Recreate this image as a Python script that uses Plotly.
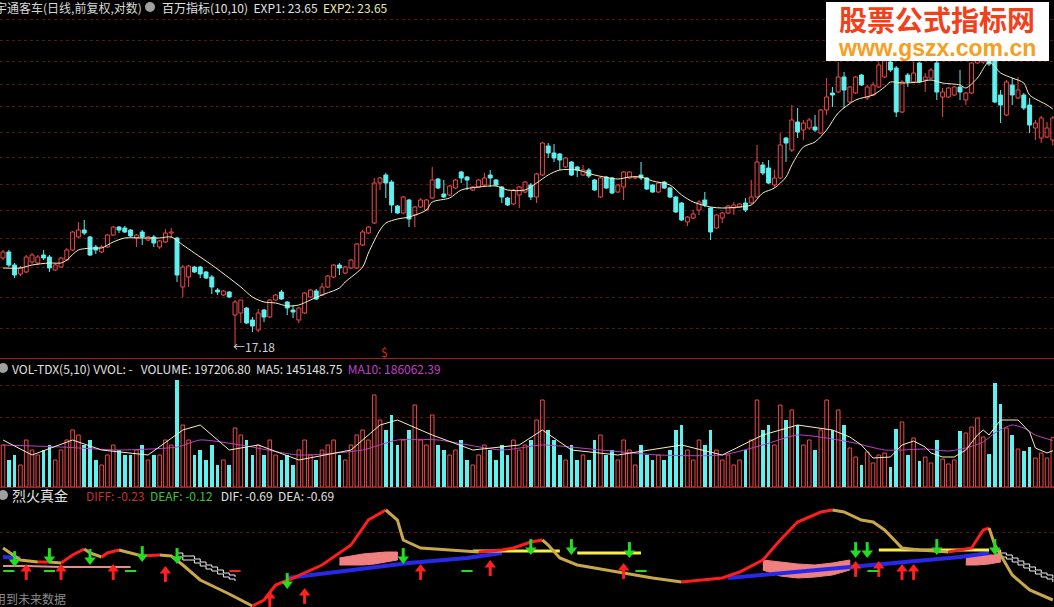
import plotly.graph_objects as go

W, H = 1054, 607

# ---------------- price panel (daily candles) ----------------
opens = [20.66, 20.90, 20.38, 20.02, 20.10, 20.50, 20.46, 20.78, 20.70, 20.18,
         20.30, 20.58, 20.98, 21.50, 21.78, 21.50, 21.10, 20.90, 21.10, 21.58,
         21.90, 21.86, 21.78, 21.46, 21.70, 21.38, 21.50, 21.10, 21.30, 21.66,
         21.46, 19.50, 19.90, 20.30, 20.30, 20.10, 19.90, 19.38, 19.18, 19.30,
         18.38, 18.46, 18.66, 18.18, 17.78, 18.58, 18.30, 18.98, 19.30, 18.90,
         18.58, 18.18, 18.46, 19.10, 19.34, 19.18, 19.50, 19.90, 20.38, 20.06,
         20.26, 20.26, 21.18, 21.66, 22.06, 23.66, 23.98, 23.70, 22.74, 22.46,
         22.98, 22.38, 22.70, 22.58, 23.06, 23.82, 23.22, 23.18, 23.46, 24.10,
         23.90, 23.38, 23.50, 23.58, 23.98, 23.78, 23.50, 23.06, 22.82, 23.18,
         23.30, 23.58, 23.10, 23.98, 25.14, 24.86, 24.82, 24.30, 24.50, 24.30,
         23.98, 24.18, 23.78, 23.10, 23.90, 23.86, 23.30, 23.50, 23.86, 23.86,
         23.98, 23.86, 23.58, 23.30, 23.70, 23.46, 23.10, 22.86, 22.10, 22.26,
         22.58, 22.98, 22.66, 21.86, 22.26, 22.46, 22.66, 22.70, 22.86, 22.86,
         23.10, 24.38, 24.26, 23.58, 23.86, 25.46, 24.98, 26.10, 25.78, 25.86,
         25.90, 25.66, 26.58, 27.26, 27.30, 27.90, 26.90, 27.26, 27.98, 27.06,
         27.18, 27.50, 27.90, 28.50, 28.26, 26.50, 27.98, 27.70, 28.46, 27.78,
         27.86, 28.46, 27.10, 27.10, 27.18, 27.50, 26.98, 27.26, 28.46, 28.50,
         28.58, 28.66, 27.18, 26.38, 27.58, 27.06, 27.18, 26.78, 25.86, 25.46,
         25.50, 25.38]
highs = [20.98, 20.98, 20.46, 20.34, 20.78, 20.86, 20.78, 20.98, 20.78, 20.46,
         20.70, 21.06, 21.74, 22.10, 22.18, 21.54, 21.18, 21.18, 21.62, 21.94,
         21.94, 21.94, 21.82, 21.62, 21.78, 21.54, 21.58, 21.38, 21.82, 21.86,
         21.50, 20.38, 20.38, 20.34, 20.34, 20.14, 19.98, 19.46, 19.38, 19.34,
         18.98, 18.98, 18.70, 18.30, 18.62, 18.62, 19.02, 19.22, 19.38, 18.94,
         18.78, 18.70, 19.30, 19.42, 19.42, 19.66, 19.98, 20.42, 20.46, 20.34,
         20.62, 21.26, 21.78, 21.94, 23.86, 23.90, 24.06, 23.78, 22.78, 23.14,
         23.02, 22.74, 23.06, 23.02, 24.30, 23.86, 23.78, 23.58, 23.82, 24.14,
         23.94, 23.54, 23.82, 24.06, 24.18, 23.82, 23.54, 23.10, 23.42, 23.54,
         23.74, 23.66, 24.06, 25.30, 25.26, 25.22, 24.86, 24.70, 24.54, 24.34,
         24.38, 24.26, 23.82, 23.90, 23.94, 23.90, 23.62, 24.14, 24.14, 23.94,
         24.50, 23.90, 23.62, 23.70, 23.74, 23.50, 23.14, 22.90, 22.34, 22.58,
         22.98, 23.30, 22.70, 22.42, 22.50, 22.78, 22.90, 22.86, 23.06, 23.78,
         25.18, 24.50, 24.58, 24.18, 25.66, 25.50, 26.78, 26.66, 26.18, 26.26,
         26.38, 26.62, 27.86, 27.50, 28.50, 28.10, 27.54, 27.94, 28.02, 27.58,
         27.70, 28.50, 28.66, 28.66, 28.34, 27.78, 28.06, 28.50, 28.50, 28.06,
         28.26, 28.54, 27.46, 27.50, 27.54, 28.18, 27.30, 28.50, 28.66, 28.98,
         28.90, 28.98, 27.38, 27.78, 27.86, 27.90, 27.26, 27.06, 26.18, 26.34,
         26.10, 26.34]
lows = [20.58, 20.30, 19.86, 19.94, 20.06, 20.42, 20.38, 20.58, 20.10, 20.14,
        20.26, 20.54, 20.94, 21.46, 21.58, 20.74, 20.82, 20.86, 21.06, 21.54,
        21.66, 21.66, 21.50, 21.10, 21.18, 21.34, 21.10, 21.02, 21.26, 21.46,
        19.70, 19.10, 19.50, 20.06, 19.86, 19.82, 19.22, 19.18, 19.14, 19.06,
        17.18, 18.06, 18.02, 17.70, 17.70, 18.10, 18.26, 18.94, 18.98, 18.38,
        18.26, 18.06, 18.42, 19.06, 18.98, 19.14, 19.46, 19.86, 19.98, 20.02,
        20.22, 20.22, 21.14, 21.62, 22.02, 23.38, 23.06, 22.46, 22.42, 22.42,
        21.90, 21.90, 22.66, 22.54, 23.02, 23.42, 23.06, 23.14, 23.42, 23.66,
        23.38, 23.34, 23.46, 23.54, 23.50, 23.54, 22.86, 22.74, 22.78, 22.66,
        23.26, 22.98, 22.86, 23.94, 24.66, 24.50, 24.18, 24.26, 23.94, 23.90,
        23.94, 23.86, 23.34, 23.06, 23.42, 23.22, 23.26, 22.98, 23.82, 23.82,
        23.78, 23.38, 23.26, 23.26, 23.42, 23.06, 22.46, 22.14, 21.94, 22.22,
        22.38, 22.70, 21.38, 21.82, 22.06, 22.42, 22.38, 22.66, 22.50, 22.82,
        23.06, 23.98, 23.62, 23.46, 23.82, 24.50, 24.90, 25.46, 25.38, 25.78,
        25.70, 25.62, 26.38, 26.70, 27.26, 26.66, 26.86, 27.22, 27.54, 26.98,
        27.14, 27.46, 27.86, 28.10, 26.30, 26.46, 27.50, 27.66, 27.66, 27.30,
        27.82, 26.98, 26.30, 27.06, 27.14, 26.98, 26.78, 27.22, 28.42, 28.42,
        28.34, 26.86, 26.06, 26.34, 26.78, 27.02, 26.58, 25.66, 25.38, 25.26,
        25.46, 25.18]
closes = [20.90, 20.38, 19.98, 20.26, 20.70, 20.78, 20.70, 20.66, 20.26, 20.38,
          20.66, 20.98, 21.70, 21.78, 21.66, 20.78, 20.98, 21.10, 21.58, 21.90,
          21.78, 21.70, 21.54, 21.58, 21.50, 21.50, 21.26, 21.34, 21.66, 21.70,
          19.98, 20.30, 20.34, 20.10, 20.02, 19.86, 19.50, 19.30, 19.34, 19.10,
          18.90, 18.98, 18.06, 17.94, 18.46, 18.30, 18.98, 19.18, 19.02, 18.66,
          18.50, 18.66, 19.26, 19.38, 19.02, 19.50, 19.94, 20.38, 20.26, 20.30,
          20.58, 21.22, 21.70, 21.90, 23.66, 23.86, 23.66, 22.78, 22.46, 23.10,
          22.22, 22.70, 22.98, 22.98, 23.78, 23.46, 23.10, 23.54, 23.78, 23.86,
          23.78, 23.50, 23.78, 23.86, 23.86, 23.58, 23.10, 22.78, 23.38, 23.50,
          23.70, 23.10, 24.02, 25.26, 24.86, 24.66, 24.58, 24.66, 23.98, 24.18,
          24.18, 23.94, 23.38, 23.86, 23.46, 23.26, 23.58, 24.10, 24.10, 23.90,
          23.86, 23.42, 23.30, 23.66, 23.46, 23.10, 22.50, 22.18, 22.30, 22.42,
          22.90, 22.78, 21.70, 22.38, 22.46, 22.74, 22.78, 22.82, 22.58, 23.10,
          24.50, 24.06, 23.66, 23.86, 25.18, 25.26, 26.18, 25.70, 26.06, 26.18,
          25.78, 26.58, 27.10, 27.18, 27.90, 27.38, 27.50, 27.90, 27.58, 27.50,
          27.58, 28.38, 28.58, 28.18, 26.50, 27.70, 27.70, 28.06, 27.70, 27.90,
          28.18, 27.30, 27.30, 27.46, 27.50, 27.30, 27.26, 28.46, 28.58, 28.78,
          28.42, 26.90, 26.78, 27.70, 27.18, 27.38, 26.66, 25.98, 26.06, 26.26,
          25.86, 26.26]

# EXP moving-average line, sampled at candle indices
ma_idx = [0, 3, 5, 8, 10, 11, 13, 16, 17, 19, 21, 24, 27, 29, 31, 33, 36, 39, 41, 43,
          45, 47, 49, 51, 53, 55, 58, 59, 62, 63, 65, 66, 68, 70, 73, 74, 77, 79, 82, 85,
          87, 90, 92, 94, 96, 99, 102, 106, 108, 110, 112, 115, 117, 119, 122, 124, 127, 129, 131, 133,
          135, 136, 138, 140, 142, 144, 147, 150, 152, 153, 155, 158, 160, 162, 165, 166, 168, 170, 172, 174,
          176, 177, 180, 181]
ma_val = [20.26, 20.26, 20.38, 20.46, 20.46, 20.58, 20.98, 21.06, 21.06, 21.30, 21.46, 21.46, 21.46, 21.50, 21.18, 20.86, 20.38, 19.86, 19.50, 19.10,
          18.90, 18.86, 18.74, 18.78, 18.98, 19.18, 19.46, 19.70, 20.30, 20.86, 21.78, 22.06, 22.22, 22.30, 22.58, 22.90, 23.06, 23.38, 23.50, 23.54,
          23.38, 23.38, 23.66, 23.98, 24.18, 24.18, 23.98, 23.82, 23.90, 23.90, 23.74, 23.58, 23.18, 22.90, 22.70, 22.66, 22.70, 22.78, 23.26, 23.46,
          23.90, 24.38, 25.10, 25.30, 25.78, 26.46, 26.98, 27.18, 27.50, 27.70, 27.66, 27.70, 27.78, 27.66, 27.58, 27.46, 27.86, 28.50, 28.06, 27.86,
          27.66, 27.18, 26.78, 26.62]
price_grid = [30.22, 29.38, 28.54, 27.62, 26.74, 25.70, 24.70, 23.62, 22.58, 21.46, 20.30, 19.10, 17.86]

# ---------------- volume panel ----------------
volumes = [168000, 108000, 128000, 88000, 188000, 148000, 128000, 148000, 168000, 108000,
           148000, 188000, 228000, 208000, 168000, 188000, 108000, 88000, 128000, 168000,
           148000, 128000, 128000, 148000, 168000, 108000, 128000, 128000, 188000, 168000,
           428000, 248000, 188000, 128000, 148000, 108000, 168000, 88000, 108000, 88000,
           236000, 208000, 188000, 128000, 168000, 128000, 188000, 128000, 108000, 128000,
           88000, 148000, 188000, 128000, 108000, 148000, 168000, 188000, 128000, 108000,
           168000, 208000, 228000, 188000, 368000, 268000, 228000, 288000, 168000, 188000,
           228000, 328000, 188000, 168000, 288000, 168000, 148000, 128000, 148000, 188000,
           108000, 88000, 128000, 168000, 148000, 108000, 168000, 128000, 188000, 148000,
           168000, 188000, 268000, 348000, 228000, 188000, 128000, 108000, 168000, 108000,
           128000, 108000, 188000, 208000, 128000, 148000, 108000, 188000, 148000, 88000,
           168000, 128000, 108000, 128000, 108000, 148000, 228000, 248000, 148000, 108000,
           188000, 168000, 228000, 148000, 108000, 128000, 88000, 108000, 148000, 188000,
           348000, 228000, 248000, 168000, 328000, 268000, 308000, 248000, 168000, 188000,
           148000, 228000, 348000, 228000, 308000, 248000, 156000, 120000, 88000, 140000,
           96000, 128000, 136000, 80000, 232000, 260000, 128000, 196000, 104000, 120000,
           96000, 188000, 112000, 92000, 108000, 224000, 216000, 240000, 276000, 200000,
           132000, 416000, 332000, 236000, 208000, 152000, 144000, 160000, 116000, 136000,
           116000, 197207]
vma5_idx = [0, 5, 12, 17, 25, 31, 34, 39, 44, 51, 60, 65, 68, 74, 81, 89, 93, 98, 106, 117,
            124, 131, 137, 143, 146, 148, 150, 153, 155, 157, 159, 160, 162, 164, 166, 168, 169, 170, 172, 175,
            177, 178, 180, 181]
vma5_val = [188000, 128000, 188000, 148000, 128000, 228000, 248000, 148000, 168000, 108000, 148000, 248000, 268000, 208000, 148000, 168000, 228000, 148000, 128000, 168000,
            128000, 208000, 248000, 228000, 200000, 168000, 116000, 120000, 168000, 184000, 160000, 136000, 120000, 120000, 148000, 208000, 228000, 208000, 268000, 268000,
            220000, 156000, 136000, 145149]
vma10_idx = [0, 10, 20, 30, 34, 41, 51, 62, 68, 75, 86, 93, 103, 113, 124, 131, 137, 146, 152, 155,
             159, 163, 166, 169, 171, 174, 176, 178, 181]
vma10_val = [168000, 160000, 148000, 160000, 188000, 168000, 128000, 148000, 188000, 188000, 148000, 168000, 148000, 128000, 128000, 168000, 208000, 180000, 148000, 148000,
             152000, 144000, 156000, 180000, 216000, 248000, 236000, 208000, 186062]

# ---------------- 烈火真金 indicator panel ----------------
diff_idx = [0, 1, 3, 6, 8, 10, 12, 14, 15, 17, 18, 20, 22, 24, 27, 29, 31, 34, 39, 43,
            45, 47, 50, 55, 60, 63, 66, 68, 69, 72, 77, 82, 86, 88, 91, 93, 94, 96, 99, 106,
            112, 117, 120, 124, 127, 131, 134, 137, 141, 143, 145, 148, 150, 152, 155, 158, 163, 167, 169, 170,
            171, 174, 177, 181]
diff_val = [0.14, 0.06, -0.10, -0.14, -0.14, -0.16, 0.00, 0.12, 0.04, -0.04, 0.04, 0.10, 0.04, -0.02, 0.00, -0.02, -0.20, -0.50, -0.78, -1.02,
            -0.90, -0.60, -0.46, -0.20, 0.20, 0.70, 0.90, 0.70, 0.30, 0.14, 0.10, 0.06, 0.10, 0.14, 0.26, 0.30, 0.20, -0.06, -0.20, -0.34,
            -0.46, -0.54, -0.50, -0.46, -0.34, -0.10, 0.30, 0.66, 0.86, 0.90, 0.86, 0.70, 0.66, 0.50, 0.14, 0.10, 0.06, 0.14, 0.50, 0.54,
            0.20, -0.40, -0.70, -0.90]
blue_idx = [0, 3, None, 49, 60, 70, 80, 86, None, 125, 140, 155, 165, 170]
blue_val = [-0.04, -0.06, None, -0.46, -0.30, -0.16, -0.06, 0.04, None, -0.46, -0.30, -0.14, -0.04, 0.04]
yel_idx = [81, 96, None, 99, 110, None, 151, 170]
yel_val = [0.08, 0.08, None, 0.04, 0.04, None, 0.10, 0.10]
pink_idx = [58, 60, 62, 64, 66, 68, None, 131, 134, 137, 140, 143, 146, None, 166, 168, 170, 172]
pink_top = [-0.06, -0.02, 0.02, 0.04, 0.06, 0.06, None, -0.10, -0.14, -0.18, -0.20, -0.16, -0.10, None, -0.04, -0.02, 0.00, 0.00]
pink_bot = [-0.20, -0.20, -0.20, -0.18, -0.14, -0.10, None, -0.30, -0.42, -0.46, -0.44, -0.40, -0.30, None, -0.20, -0.20, -0.18, -0.14]
pinkline_idx = [0, 4, 10, 16, 22]
pinkline_val = [-0.22, -0.22, -0.24, -0.24, -0.24]
stair1_idx = [30, 31, 32, 33, 34, 35, 36, 37, 38, 39, 40]
stair1_val = [0.04, -0.02, -0.02, -0.08, -0.14, -0.20, -0.24, -0.30, -0.36, -0.40, -0.44]
stair2_idx = [171, 172, 173, 174, 175, 176, 177, 178, 179, 180, 181]
stair2_val = [0.10, 0.04, 0.00, -0.06, -0.12, -0.18, -0.24, -0.30, -0.36, -0.40, -0.46]
down_idx = [2, 8, 15, 24, 30, 49, 69, 91, 98, 108, 147, 149, 161, 171]
down_val = [-0.20, -0.14, -0.16, -0.10, -0.14, -0.64, -0.14, 0.04, 0.04, -0.02, -0.02, -0.02, 0.04, 0.04]
up_idx = [4, 10, 19, 28, 46, 52, 72, 84, 107, 147, 151, 155, 157]
up_val = [-0.22, -0.22, -0.22, -0.26, -0.76, -0.70, -0.22, -0.14, -0.20, -0.16, -0.16, -0.22, -0.22]
gdash_idx = [1, 8, 22, 80, 110, 150]
gdash_val = [-0.32, -0.32, -0.32, -0.32, -0.32, -0.32]
rdash_idx = [40]
rdash_val = [-0.32]

# ---------------- styling ----------------
RED = '#f04848'
CYAN = '#5ff0f0'
BG = '#000000'
GRID = '#5e1212'
n = len(opens)
idx = list(range(n))
PX_PRICE = 0.04     # price units per pixel
PX_IND = 0.02       # indicator units per pixel
BODY_W = 0.68

fig = go.Figure()

# candles: wicks (outside the body) + bodies
up = [closes[i] >= opens[i] for i in idx]
for is_up, col in ((True, RED), (False, CYAN)):
    wx, wy = [], []
    for i in idx:
        if up[i] != is_up:
            continue
        top, bot = max(opens[i], closes[i]), min(opens[i], closes[i])
        wx += [i, i, None, i, i, None]
        wy += [highs[i], top, None, bot, lows[i], None]
    fig.add_trace(go.Scatter(x=wx, y=wy, mode='lines', line=dict(color=col, width=1),
                             hoverinfo='skip', xaxis='x', yaxis='y'))
    sel = [i for i in idx if up[i] == is_up]
    base = [min(opens[i], closes[i]) for i in sel]
    hgt = [max(abs(closes[i] - opens[i]), 0.02) for i in sel]
    fig.add_trace(go.Bar(x=sel, y=hgt, base=base, width=BODY_W,
                         marker=dict(color='rgba(0,0,0,0)' if is_up else col, line=dict(color=col, width=1)),
                         hoverinfo='skip', xaxis='x', yaxis='y'))
fig.add_trace(go.Scatter(x=ma_idx, y=ma_val, mode='lines', line=dict(color='#f4f0c0', width=1, shape='spline', smoothing=0.8),
                         hoverinfo='skip', xaxis='x', yaxis='y'))

# volume bars
fig.add_trace(go.Bar(x=[i for i in idx if up[i]], y=[volumes[i] for i in idx if up[i]], width=0.62,
                     marker=dict(color='rgba(0,0,0,0)', line=dict(color=RED, width=1)),
                     hoverinfo='skip', xaxis='x', yaxis='y2'))
fig.add_trace(go.Bar(x=[i for i in idx if not up[i]], y=[volumes[i] for i in idx if not up[i]], width=0.62,
                     marker=dict(color=CYAN, line=dict(color=CYAN, width=0)),
                     hoverinfo='skip', xaxis='x', yaxis='y2'))
fig.add_trace(go.Scatter(x=vma10_idx, y=vma10_val, mode='lines', line=dict(color='#c040c8', width=1, shape='spline', smoothing=0.6),
                         hoverinfo='skip', xaxis='x', yaxis='y2'))
fig.add_trace(go.Scatter(x=vma5_idx, y=vma5_val, mode='lines', line=dict(color='#f4f0c0', width=1),
                         hoverinfo='skip', xaxis='x', yaxis='y2'))

# indicator: pink bands
def segments(xs):
    out, cur = [], []
    for k, x in enumerate(xs):
        if x is None:
            if cur:
                out.append(cur)
            cur = []
        else:
            cur.append(k)
    if cur:
        out.append(cur)
    return out

for seg in segments(pink_idx):
    px = [pink_idx[k] for k in seg] + [pink_idx[k] for k in reversed(seg)]
    py = [pink_top[k] for k in seg] + [pink_bot[k] for k in reversed(seg)]
    fig.add_trace(go.Scatter(x=px, y=py, mode='lines', fill='toself', fillcolor='#f08080',
                             line=dict(color='#f08080', width=1), hoverinfo='skip', xaxis='x', yaxis='y3'))
fig.add_trace(go.Scatter(x=pinkline_idx, y=pinkline_val, mode='lines', line=dict(color='#f08888', width=2),
                         hoverinfo='skip', xaxis='x', yaxis='y3'))

fig.add_trace(go.Scatter(x=blue_idx, y=blue_val, mode='lines', line=dict(color='#2828e8', width=4),
                         connectgaps=False, hoverinfo='skip', xaxis='x', yaxis='y3'))
fig.add_trace(go.Scatter(x=yel_idx, y=yel_val, mode='lines', line=dict(color='#f8f040', width=3),
                         connectgaps=False, hoverinfo='skip', xaxis='x', yaxis='y3'))

# staircases (outlined steps)
for sx, sy in ((stair1_idx, stair1_val), (stair2_idx, stair2_val)):
    for off in (0, -4 * PX_IND):
        fig.add_trace(go.Scatter(x=sx, y=[v + off for v in sy], mode='lines',
                                 line=dict(color='#f0f0f0', width=1, shape='hv'),
                                 hoverinfo='skip', xaxis='x', yaxis='y3'))

# main line: red while rising, gold while falling
def add_colored(xs, ys, up_c, dn_c, width):
    segx, segy, cur = [xs[0]], [ys[0]], None
    for k in range(1, len(xs)):
        c = up_c if ys[k] >= ys[k - 1] else dn_c
        if cur is None:
            cur = c
        if c != cur:
            fig.add_trace(go.Scatter(x=segx, y=segy, mode='lines', line=dict(color=cur, width=width),
                                     hoverinfo='skip', xaxis='x', yaxis='y3'))
            segx, segy, cur = [xs[k - 1]], [ys[k - 1]], c
        segx.append(xs[k]); segy.append(ys[k])
    fig.add_trace(go.Scatter(x=segx, y=segy, mode='lines', line=dict(color=cur, width=width),
                             hoverinfo='skip', xaxis='x', yaxis='y3'))

add_colored(diff_idx, diff_val, '#ff1c1c', '#c8a848', 3)

# arrows
GREEN = '#22dd22'
fig.add_trace(go.Scatter(x=down_idx, y=[v + 9 * PX_IND for v in down_val], mode='markers',
                         marker=dict(symbol='line-ns', size=7, line=dict(color=GREEN, width=3)),
                         hoverinfo='skip', xaxis='x', yaxis='y3'))
fig.add_trace(go.Scatter(x=down_idx, y=[v + 3 * PX_IND for v in down_val], mode='markers',
                         marker=dict(symbol='triangle-down', size=10, color=GREEN),
                         hoverinfo='skip', xaxis='x', yaxis='y3'))
fig.add_trace(go.Scatter(x=up_idx, y=[v - 9 * PX_IND for v in up_val], mode='markers',
                         marker=dict(symbol='line-ns', size=7, line=dict(color='#ff2020', width=3)),
                         hoverinfo='skip', xaxis='x', yaxis='y3'))
fig.add_trace(go.Scatter(x=up_idx, y=[v - 3 * PX_IND for v in up_val], mode='markers',
                         marker=dict(symbol='triangle-up', size=10, color='#ff2020'),
                         hoverinfo='skip', xaxis='x', yaxis='y3'))
fig.add_trace(go.Scatter(x=gdash_idx, y=gdash_val, mode='markers',
                         marker=dict(symbol='line-ew', size=8, line=dict(color=GREEN, width=2)),
                         hoverinfo='skip', xaxis='x', yaxis='y3'))
fig.add_trace(go.Scatter(x=rdash_idx, y=rdash_val, mode='markers',
                         marker=dict(symbol='line-ew', size=8, line=dict(color='#ff2020', width=2)),
                         hoverinfo='skip', xaxis='x', yaxis='y3'))

# ---------------- layout ----------------
def fy(py):
    return 1 - py / H

x0 = -0.52
x1 = x0 + W / 5.8
p_top = 17.18 + 345 * PX_PRICE
fig.update_layout(
    width=W, height=H, margin=dict(l=0, r=0, t=0, b=0, pad=0),
    paper_bgcolor=BG, plot_bgcolor=BG, showlegend=False, bargap=0, barmode='overlay',
    xaxis=dict(range=[x0, x1], visible=False, rangeslider=dict(visible=False), fixedrange=True),
    yaxis=dict(domain=[fy(358), 1], range=[p_top - 358 * PX_PRICE, p_top], showticklabels=False,
               tickvals=price_grid, showgrid=True, gridcolor=GRID, griddash='dot', gridwidth=1, zeroline=False),
    yaxis2=dict(domain=[fy(487), fy(360)], range=[0, 127 * 4000], showticklabels=False,
                tickvals=[280000, 408000], showgrid=True, gridcolor=GRID, griddash='dot', zeroline=False),
    yaxis3=dict(domain=[0, fy(489)], range=[(555 - 607) * PX_IND, (555 - 489) * PX_IND], showticklabels=False,
                tickvals=[(555 - 532) * PX_IND], showgrid=True, gridcolor=GRID, griddash='dot', zeroline=False),
    font=dict(family='Liberation Sans, Noto Sans CJK SC', color='#d8d8d8', size=12),
)

shapes = [
    dict(type='line', xref='paper', yref='paper', x0=0, x1=1, y0=fy(358.5), y1=fy(358.5), line=dict(color='#b01818', width=1)),
    dict(type='line', xref='paper', yref='paper', x0=0, x1=1, y0=fy(487.5), y1=fy(487.5), line=dict(color='#b01818', width=1)),
    # logo box
    dict(type='rect', xref='paper', yref='paper', x0=826 / W, x1=1049 / W, y0=fy(61), y1=fy(2), fillcolor='#ffffff', line=dict(width=0)),
]
for cx, cy in ((150, 7), (3, 368), (3, 495)):
    shapes.append(dict(type='circle', xref='paper', yref='paper', x0=(cx - 5) / W, x1=(cx + 5) / W,
                       y0=fy(cy + 5), y1=fy(cy - 5), fillcolor='#a0a0a0', line=dict(width=0)))
fig.update_layout(shapes=shapes)

ann = []
def txt(x, y, s, size=12, color='#d8d8d8', family=None):
    d = dict(xref='paper', yref='paper', x=x / W, y=fy(y), text=s, showarrow=False,
             xanchor='left', yanchor='middle', font=dict(size=size, color=color))
    if family:
        d['font']['family'] = family
    ann.append(d)

CJK = 'Noto Sans CJK SC'
txt(-7, 8, '宇通客车(日线,前复权,对数)', 12, '#d8d8d8', CJK)
txt(160, 8, '百万指标(10,10)  EXP1: 23.65  <span style="color:#e8e8b0">EXP2: 23.65</span>', 12, '#e0e0e0', CJK)
txt(10, 368, 'VOL-TDX(5,10) VVOL: -   VOLUME: 197206.80  MA5: 145148.75  <span style="color:#c040c8">MA10: 186062.39</span>', 12, '#e0e0e0', CJK)
txt(10, 495, '烈火真金', 14, '#e0e0e0', CJK)
txt(84, 495, '<span style="color:#c83030">DIFF: -0.23</span>  <span style="color:#40c040">DEAF: -0.12</span>   DIF: -0.69  DEA: -0.69', 12, '#e0e0e0', CJK)
txt(-8, 598, '用到未来数据', 12, '#8c8c8c', CJK)
txt(231, 346, '←17.18', 12, '#d0d0d0', CJK)
txt(379, 351, '$', 12, '#e02020', CJK)
ann.append(dict(xref='paper', yref='paper', x=937 / W, y=fy(19), text='<b>股票公式指标网</b>', showarrow=False,
                xanchor='center', yanchor='middle', font=dict(size=28, color='#f2401a', family=CJK)))
ann.append(dict(xref='paper', yref='paper', x=937 / W, y=fy(48), text='<b>www.gszx.com.cn</b>', showarrow=False,
                xanchor='center', yanchor='middle', font=dict(size=23, color='#f5a020', family='Liberation Sans')))
fig.update_layout(annotations=ann)

fig.write_html('out.html', config={'displayModeBar': False, 'staticPlot': True},
               post_script="document.body.style.margin='0';document.body.style.overflow='hidden';document.body.style.background='#000';")
